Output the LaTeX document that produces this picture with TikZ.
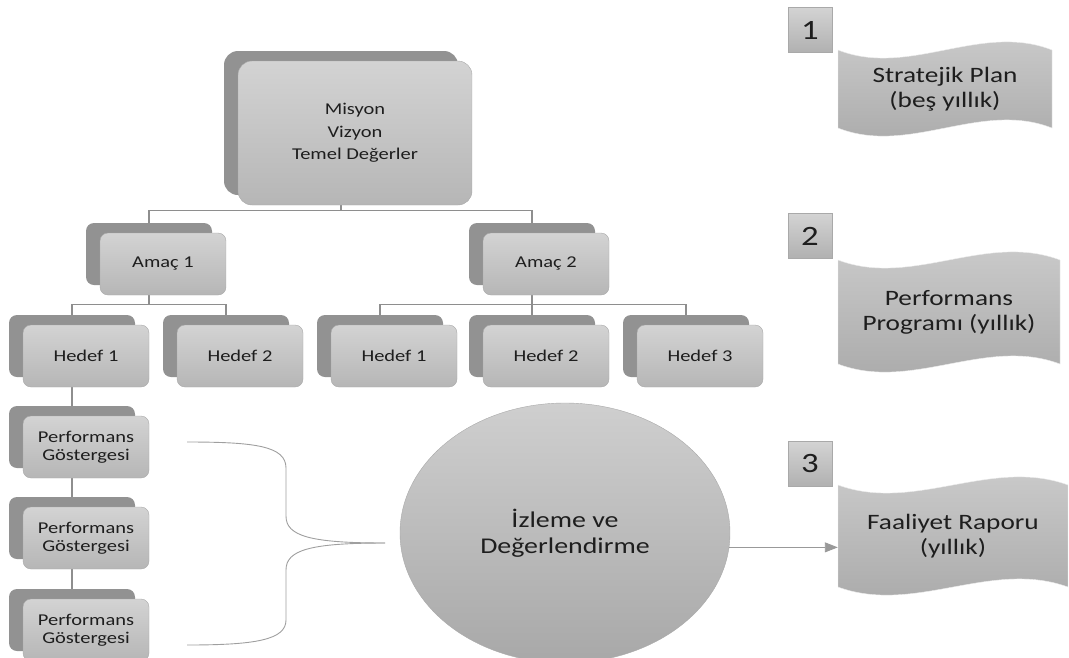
\documentclass[tikz,border=0pt]{standalone}
\usepackage{fontspec}
\setmainfont{Carlito}[FakeStretch=1.24]
\usetikzlibrary{shadows,backgrounds,arrows.meta,shapes.geometric}

\definecolor{ink}{HTML}{1E1E1E}
\definecolor{boxtop}{HTML}{D3D3D3}
\definecolor{boxbot}{HTML}{B6B6B6}
\definecolor{boxedge}{HTML}{A9A9A9}
\definecolor{shadegray}{HTML}{929292}
\definecolor{wavetop}{HTML}{CDCDCD}
\definecolor{wavebot}{HTML}{A8A8A8}
\definecolor{linkgray}{HTML}{8E8E8E}

\tikzset{
  card/.style={rectangle, rounded corners=8pt, draw=boxedge, top color=boxtop,
    bottom color=boxbot, minimum width=126pt, minimum height=62pt, inner sep=0pt,
    align=center, text=ink, font=\fontsize{16.5}{18}\selectfont,
    copy shadow={shadow xshift=-14pt, shadow yshift=10pt, draw=none, fill=shadegray}},
  bigcard/.style={card, rounded corners=14pt, minimum width=234pt, minimum height=144pt,
    font=\fontsize{16.5}{22.5}\selectfont},
  numbox/.style={rectangle, draw=boxedge, top color=boxtop, bottom color=wavebot!90,
    minimum width=44pt, minimum height=45pt, inner sep=0pt, text=ink,
    font=\fontsize{28}{30}\selectfont},
  wavenode/.style={rectangle, inner sep=0pt, align=center, text=ink,
    font=\fontsize{22}{25}\selectfont},
  wavefill/.style={draw=white!85!gray, top color=wavetop, bottom color=wavebot},
  evalnode/.style={ellipse, draw=boxedge, top color=boxtop!95!gray, bottom color=wavebot,
    minimum width=330pt, minimum height=260pt, align=center, text=ink,
    font=\fontsize{22.5}{26}\selectfont},
  link/.style={draw=linkgray, line width=1.3pt},
  brace/.style={draw=gray!75, line width=0.9pt},
  flow/.style={draw=gray!80, line width=0.9pt, -{Triangle[length=13pt, width=10pt]}}
}

% wavy banner behind a node: name, half width, half height
\newcommand{\wavebg}[3]{%
  \begin{scope}[on background layer, shift={(#1.center)}]
    \path[wavefill] (-#2,-#3) .. controls (-#2/3,-#3+28) and (#2/3,-#3-28) .. (#2,-#3)
      -- (#2,#3) .. controls (#2/3,#3-28) and (-#2/3,#3+28) .. (-#2,#3) -- cycle;
  \end{scope}}

\begin{document}
\begin{tikzpicture}[x=1pt, y=-1pt]
  \useasboundingbox (0,0) rectangle (1069,657);

  % ---- hierarchy ----
  \node[bigcard] (mvv) at (355,133) {Misyon\\Vizyon\\Temel Değerler};
  \node[card] (a1) at (163,264) {Amaç 1};
  \node[card] (a2) at (546,264) {Amaç 2};

  \node[card] (h11) at (86,356) {Hedef 1};
  \node[card] (h12) at (240,356) {Hedef 2};
  \node[card] (h21) at (394,356) {Hedef 1};
  \node[card] (h22) at (546,356) {Hedef 2};
  \node[card] (h23) at (700,356) {Hedef 3};

  \node[card] (pg1) at (86,447) {Performans\\Göstergesi};
  \node[card] (pg2) at (86,538) {Performans\\Göstergesi};
  \node[card] (pg3) at (86,630) {Performans\\Göstergesi};

  % ---- tree connectors (behind the cards) ----
  \begin{scope}[on background layer]
    \draw[link] ([xshift=-14pt]mvv.center) -- ([xshift=-14pt, yshift=-5pt]mvv.south);
    \draw[link] ([xshift=-14pt]a1.center) |- ([xshift=-14pt, yshift=-5pt]mvv.south)
      -| ([xshift=-14pt]a2.center);
    \draw[link] ([xshift=-14pt]h11.center) |- ([xshift=-14pt, yshift=-9pt]a1.south)
      -| ([xshift=-14pt]h12.center);
    \draw[link] ([xshift=-14pt]a1.center) -- ([xshift=-14pt, yshift=-9pt]a1.south);
    \draw[link] ([xshift=-14pt]h21.center) |- ([xshift=-14pt, yshift=-9pt]a2.south)
      -| ([xshift=-14pt]h23.center);
    \draw[link] ([xshift=-14pt]a2.center) -- ([xshift=-14pt]h22.center);
    \draw[link] ([xshift=-14pt]h11.center) -- ([xshift=-14pt]pg3.center);
  \end{scope}

  % ---- monitoring ----
  \node[evalnode] (izle) at (565,533) {İzleme ve\\Değerlendirme};

  \coordinate (brtop) at (187,442);
  \coordinate (brtip) at (385,543);
  \coordinate (brbot) at (187,645);
  \draw[brace] (brtop) .. controls (255,442) and (286,446) .. (286,468) -- (286,516)
    .. controls (286,536) and (310,543) .. (brtip);
  \draw[brace] (brtip) .. controls (310,543) and (286,550) .. (286,570) -- (286,620)
    .. controls (286,640) and (255,645) .. (brbot);

  % ---- documents ----
  \node[numbox] (n1) at (810,30) {1};
  \node[numbox] (n2) at (810,236) {2};
  \node[numbox] (n3) at (810,464) {3};

  \node[wavenode, minimum width=214pt, minimum height=78pt] (plan) at (945,89)
    {Stratejik Plan\\(beş yıllık)};
  \node[wavenode, minimum width=222pt, minimum height=104pt] (prog) at (949,312)
    {Performans\\Programı (yıllık)};
  \node[wavenode, minimum width=230pt, minimum height=102pt] (rapor) at (953,536)
    {Faaliyet Raporu\\(yıllık)};
  \wavebg{plan}{107}{39}
  \wavebg{prog}{111}{52}
  \wavebg{rapor}{115}{51}

  \draw[flow] (izle.-5) -- (izle.-5 -| rapor.west);
\end{tikzpicture}
\end{document}
